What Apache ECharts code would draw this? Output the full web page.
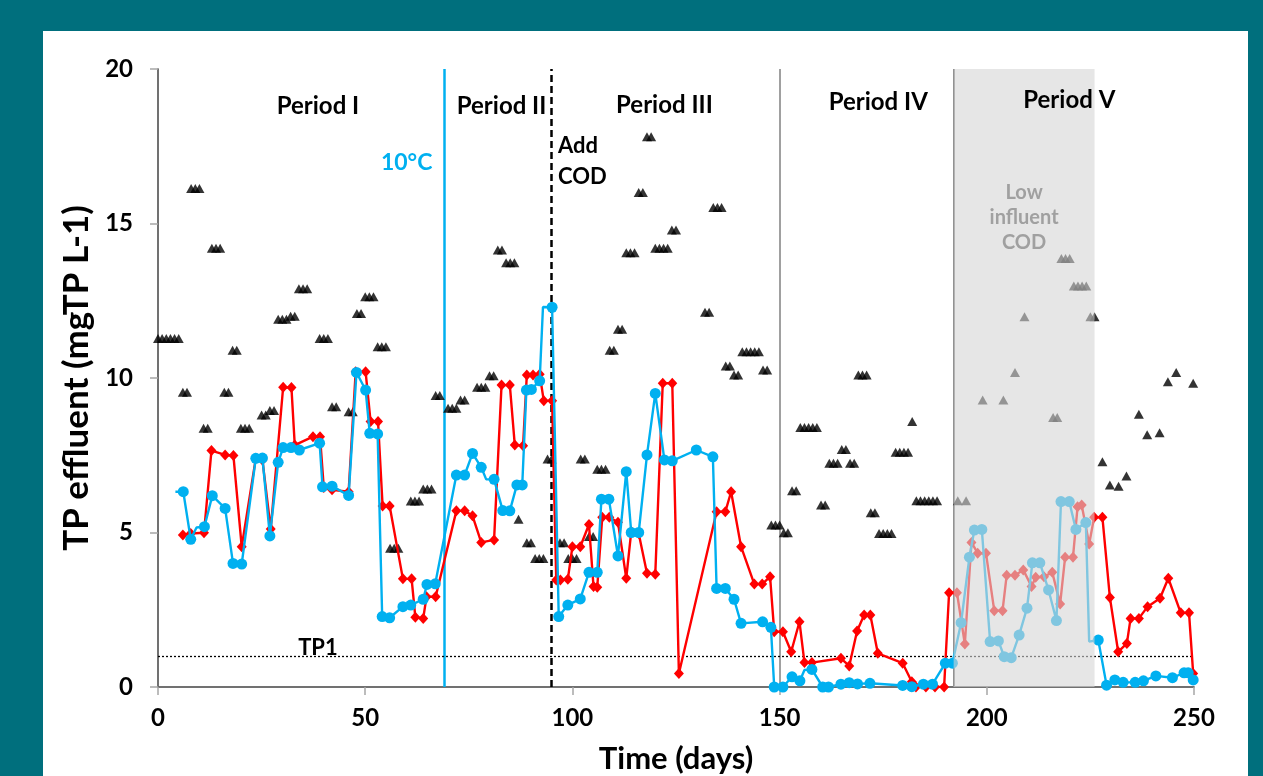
<!DOCTYPE html>
<html><head><meta charset="utf-8">
<script src="https://cdn.jsdelivr.net/npm/echarts@6/dist/echarts.min.js"></script>
<style>
html,body{margin:0;padding:0;width:1263px;height:776px;overflow:hidden;background:#006F7D;}
#panel{position:absolute;left:43px;top:31px;width:1205px;height:745px;background:#fff;}
#chart{position:absolute;left:0;top:0;width:1263px;height:776px;}
</style></head><body>
<div id="panel"></div><div id="chart"></div>
<script>
// ---- data ----
const xTickValues = [0, 50, 100, 150, 200, 250];
const yTickValues = [0, 5, 10, 15, 20];

const blueDays = [4.2,6.1,7.9,9.3,11.2,13.1,16.2,18.1,20.2,23.6,25.2,27.0,29.0,30.2,32.1,34.1,39.0,39.7,42.0,46.0,47.9,50.1,51.1,53.0,54.1,55.9,59.1,61.0,64.0,64.9,66.9,
  72.0,74.0,75.9,78.0,79.2,81.1,83.2,84.9,86.6,87.9,88.9,90.1,92.1,92.9,95.1,
  96.7,98.9,101.9,104.0,106.0,107.0,108.8,111.0,113.0,114.2,116.0,118.0,120.0,122.2,124.1,129.9,133.9,134.8,136.9,139.0,140.7,145.9,147.9,148.7,
  150.8,153.0,154.9,156.0,157.8,160.4,161.8,164.8,166.8,168.8,171.8,179.7,181.9,184.7,186.9,190.0,191.7,
  193.8,195.8,197.0,198.8,200.8,202.8,204.2,205.9,207.8,209.7,211.0,212.8,214.9,216.8,217.9,219.9,221.5,223.9,224.7,
  226.9,228.9,230.9,232.9,235.8,237.8,240.8,244.8,247.6,248.6,249.8];
const blueTP = [6.32,6.32,4.78,5.16,5.19,6.19,5.78,4.0,3.98,7.4,7.41,4.89,7.27,7.75,7.75,7.67,7.89,6.48,6.5,6.2,10.18,9.61,8.21,8.19,2.28,2.24,2.6,2.65,2.84,3.32,3.34,
  6.86,6.86,7.56,7.11,6.72,6.72,5.71,5.7,6.54,6.54,9.61,9.63,9.91,12.3,12.29,
  2.28,2.65,2.85,3.71,3.71,6.08,6.08,4.24,6.97,5.0,5.0,7.51,9.5,7.35,7.32,7.67,7.45,3.19,3.19,2.84,2.06,2.11,1.93,0,
  0,0.33,0.2,0.55,0.57,0,0,0.09,0.14,0.1,0.12,0.05,0.01,0.09,0.09,0.77,0.77,
  2.08,4.2,5.08,5.1,1.47,1.49,0.98,0.95,1.68,2.55,4.02,4.02,3.14,2.15,6.0,6.0,5.1,5.32,1.47,
  1.52,0.06,0.23,0.15,0.15,0.2,0.36,0.3,0.46,0.46,0.23];
const blueNoMarkerDays = [4.2, 9.3, 79.2, 92.9, 156.0, 224.7];

const redDays = [6.0,7.9,11.1,12.9,16.2,18.2,20.2,23.6,25.2,27.2,30.2,32.2,33.0,37.4,39.1,40.0,42.0,46.0,47.7,50.1,51.3,53.1,54.2,55.9,59.1,61.2,62.1,64.0,64.8,67.0,
  72.0,74.0,75.9,78.0,81.1,82.9,84.9,86.1,88.1,89.0,90.5,92.1,93.1,95.1,
  96.1,97.1,98.9,100.0,101.9,104.0,105.1,106.0,107.2,108.9,111.0,113.0,114.2,116.0,118.0,120.0,121.8,124.1,125.7,134.8,136.9,138.3,140.7,143.9,145.8,147.7,148.7,
  150.8,152.8,154.8,156.0,157.8,164.8,166.8,168.7,170.4,171.9,173.7,179.7,181.9,182.9,185.3,187.5,189.7,190.9,
  192.8,194.7,196.3,197.8,199.8,201.8,203.8,204.8,206.8,208.8,210.8,211.8,213.8,215.8,217.7,218.9,220.8,221.9,222.9,224.7,
  225.9,227.9,229.7,231.7,233.8,234.7,236.7,238.8,241.8,243.8,246.8,248.8,249.8];
const redTP = [4.92,4.97,4.99,7.65,7.51,7.49,4.54,7.4,7.35,5.11,9.7,9.69,7.83,8.1,8.1,6.46,6.38,6.32,10.2,10.2,8.59,8.59,5.86,5.86,3.5,3.5,2.26,2.22,2.92,2.92,
  5.7,5.7,5.54,4.68,4.76,9.77,9.77,7.83,7.81,10.1,10.1,10.12,9.26,9.26,
  3.46,3.46,3.49,4.54,4.54,5.26,3.25,3.23,5.49,5.49,5.33,3.52,5.03,4.97,3.68,3.65,9.83,9.83,0.44,5.67,5.67,6.32,4.54,3.33,3.33,3.57,1.79,
  1.79,1.14,2.11,0.79,0.79,0.93,0.68,1.81,2.33,2.33,1.09,0.77,0.17,0,0,0,0,3.05,
  3.05,1.39,4.68,4.33,4.33,2.47,2.47,3.62,3.62,3.79,3.25,3.55,3.57,3.71,2.69,4.2,4.2,5.83,5.89,4.63,
  5.49,5.49,2.9,1.14,1.41,2.22,2.22,2.6,2.87,3.52,2.4,2.4,0.44];

const triDays = [
  0,1,2,3,4,5, 6,7, 8,9,10, 11,12, 13,14,15, 16,17, 18,19, 20,21,22,
  25,26,27,28, 29,30,31, 32,33, 34,35,36, 39,40,41, 42,43, 46,47, 48,49,
  50,51,52, 53,54,55, 56,57,58, 61,62,63, 64,65,66, 67,68,
  70,71,72, 73,74, 77,78,79, 80,81, 82,83, 84,85,86, 87, 89,90, 91,92,93, 94,95,
  97,98, 99,100,101, 102,103, 104,105, 106,107,108, 109,110, 111,112, 113,114,115,
  116,117, 118,119, 120,121,122,123, 124,125, 132,133, 134,135,136, 137,138, 139,140,
  141,142,143,144,145, 146,147, 148,149,150,
  151,152, 153,154, 155,156,157,158,159, 160,161, 162,163,164, 165,166, 167,168,
  169,170,171, 172,173, 174,175,176,177, 178,179,180,181, 182, 183,184,185,186,187,188,
  193,195, 199, 204, 206.8, 209.1, 216,217, 218,219,220, 221,222,223,224, 225,226,
  227.9, 229.7, 231.8, 233.7, 236.7, 238.7, 241.7, 243.7, 245.7, 249.8];
const triTP = [
  11.28,11.28,11.28,11.28,11.28,11.28, 9.54,9.54, 16.13,16.13,16.13, 8.37,8.37, 14.2,14.2,14.2, 9.54,9.54, 10.9,10.9, 8.37,8.37,8.37,
  8.8,8.8,8.95,8.95, 11.9,11.9,11.9, 12.0,12.0, 12.89,12.89,12.89, 11.28,11.28,11.28, 9.07,9.07, 8.91,8.91, 12.09,12.09,
  12.63,12.63,12.63, 11.01,11.01,11.01, 4.49,4.49,4.49, 6.02,6.02,6.02, 6.41,6.41,6.41, 9.43,9.43,
  9.02,9.02,9.02, 9.29,9.29, 9.7,9.7,9.7, 10.07,10.07, 14.14,14.14, 13.73,13.73,13.73, 5.43, 4.67,4.67, 4.16,4.16,4.16, 7.38,7.38,
  4.67,4.67, 4.16,4.16,4.16, 7.38,7.38, 4.87,4.87, 7.05,7.05,7.05, 10.9,10.9, 11.58,11.58, 14.05,14.05,14.05,
  16.0,16.0, 17.81,17.81, 14.2,14.2,14.2,14.2, 14.79,14.79, 12.13,12.13, 15.52,15.52,15.52, 10.39,10.39, 10.1,10.1,
  10.85,10.85,10.85,10.85,10.85, 10.26,10.26, 5.24,5.24,5.24,
  4.99,4.99, 6.35,6.35, 8.4,8.4,8.4,8.4,8.4, 5.89,5.89, 7.24,7.24,7.24, 7.69,7.69, 7.24,7.24,
  10.1,10.1,10.1, 5.64,5.64, 4.97,4.97,4.97,4.97, 7.6,7.6,7.6,7.6, 8.59, 6.03,6.03,6.03,6.03,6.03,6.03,
  6.03,6.03, 9.29, 9.29, 10.18, 11.98, 8.72,8.72, 13.87,13.87,13.87, 12.98,12.98,12.98,12.98, 11.98,11.98,
  7.29, 6.54, 6.5, 6.83, 8.83, 8.16, 8.23, 9.88, 10.18, 9.83];

const eventDays = {cold: 69, addCOD: 95, p4: 150, p5: 192};
const lowCodRange = [192, 226];
const tp1Limit = 1;

// ---- chart ----
const FONT = 'Lato, "DejaVu Sans", sans-serif';
const BLUE = '#00B0F0', RED = '#FF0000';

const blueData = blueDays.map((d, i) => blueNoMarkerDays.includes(d)
  ? {value: [d, blueTP[i]], symbol: 'none'} : [d, blueTP[i]]);
const redData = redDays.map((d, i) => [d, redTP[i]]);
const triData = triDays.map((d, i) => [d, triTP[i]]);

function txt(text, coord, style) {
  return {coord: coord, symbol: 'rect', symbolSize: [1, 1], itemStyle: {color: 'rgba(0,0,0,0)'},
    label: Object.assign({show: true, position: 'inside', formatter: text, fontFamily: FONT,
      fontWeight: 'bold', color: '#000', fontSize: 24}, style)};
}

const chart = echarts.init(document.getElementById('chart'), null, {renderer: 'canvas'});
chart.setOption({
  animation: false,
  backgroundColor: 'transparent',
  grid: {left: 158, top: 69, right: 69, bottom: 89, containLabel: false, outerBoundsMode: 'none'},
  xAxis: [{
    type: 'value', min: 0, max: 250, interval: 50,
    name: 'Time (days)', nameLocation: 'middle', nameGap: 56,
    nameTextStyle: {fontFamily: FONT, fontWeight: 'bold', fontSize: 31, color: '#000'},
    axisLine: {lineStyle: {color: '#A6A6A6', width: 1.5}},
    axisTick: {show: true, inside: false, length: 8, lineStyle: {color: '#A6A6A6', width: 1.5}},
    axisLabel: {margin: 19, fontFamily: FONT, fontWeight: 'bold', fontSize: 24, color: '#000',
      formatter: v => xTickValues.includes(v) ? String(v) : ''},
    splitLine: {show: false}
  }, {
    type: 'value', min: 0, max: 250, position: 'top', show: true,
    axisLine: {lineStyle: {color: '#595959', width: 1.5}},
    axisTick: {show: false}, axisLabel: {show: false}, splitLine: {show: false}
  }],
  yAxis: [{
    type: 'value', min: 0, max: 20, interval: 5,
    name: 'TP effluent (mgTP L-1)', nameLocation: 'middle', nameGap: 51, nameRotate: 90,
    nameTextStyle: {fontFamily: FONT, fontWeight: 'bold', fontSize: 35, color: '#000'},
    axisLine: {show: true, lineStyle: {color: '#A6A6A6', width: 1.5}},
    axisTick: {show: true, inside: false, length: 8, lineStyle: {color: '#A6A6A6', width: 1.5}},
    axisLabel: {margin: 25, fontFamily: FONT, fontWeight: 'bold', fontSize: 24, color: '#000',
      formatter: v => yTickValues.includes(v) ? String(v) : ''},
    splitLine: {show: false}
  }, {
    type: 'value', min: 0, max: 20, position: 'right', show: true,
    axisLine: {show: true, lineStyle: {color: '#595959', width: 1.5}},
    axisTick: {show: false}, axisLabel: {show: false}, splitLine: {show: false}
  }],
  series: [
    {
      name: 'Influent', type: 'scatter', z: 2, data: triData,
      symbol: 'triangle', symbolSize: [10, 9], itemStyle: {color: '#000'},
      markLine: {
        z: 1, silent: true, symbol: ['none', 'none'], label: {show: false},
        data: [
          {xAxis: eventDays.cold, lineStyle: {color: BLUE, width: 2.5, type: 'solid'}},
          {xAxis: eventDays.addCOD, lineStyle: {color: '#000', width: 2.5, type: [7, 4]}},
          {xAxis: eventDays.p4, lineStyle: {color: '#A0A0A0', width: 2, type: 'solid'}},
          {xAxis: eventDays.p5, lineStyle: {color: '#7F7F7F', width: 2, type: 'solid'}},
          {yAxis: tp1Limit, lineStyle: {color: '#000', width: 1.3, type: [2, 2]}}
        ]
      }
    },
    {
      name: 'Red', type: 'line', z: 3, data: redData,
      symbol: 'diamond', symbolSize: [10, 11], showSymbol: true,
      lineStyle: {color: RED, width: 2.4}, itemStyle: {color: RED}
    },
    {
      name: 'Blue', type: 'line', z: 4, data: blueData,
      symbol: 'circle', symbolSize: 11, showSymbol: true,
      lineStyle: {color: BLUE, width: 2.4}, itemStyle: {color: BLUE}
    },
    {
      name: 'overlay', type: 'line', z: 10, data: [],
      markArea: {
        z: 10, silent: true,
        itemStyle: {color: 'rgba(213,213,213,0.6)'},
        data: [[{xAxis: lowCodRange[0], yAxis: 0}, {xAxis: lowCodRange[1], yAxis: 20}]]
      },
      markPoint: {
        z: 20, silent: true,
        data: [
          txt('Period I', [38.6, 18.8]),
          txt('Period II', [82.9, 18.8]),
          txt('Period III', [122.2, 18.83]),
          txt('Period IV', [173.8, 18.93]),
          txt('Period V', [219.9, 19.0]),
          txt('10°C', [60.0, 16.96], {color: BLUE, fontSize: 23}),
          txt('Add\nCOD', [96.4, 17.0], {position: 'right', distance: 0, lineHeight: 31, fontSize: 22, align: 'left'}),
          txt('Low\ninfluent\nCOD', [209.0, 15.18], {color: '#A0A0A0', fontSize: 20, lineHeight: 25}),
          txt('TP1', [38.6, 1.25], {fontSize: 22})
        ]
      }
    }
  ]
});
</script>
</body></html>
